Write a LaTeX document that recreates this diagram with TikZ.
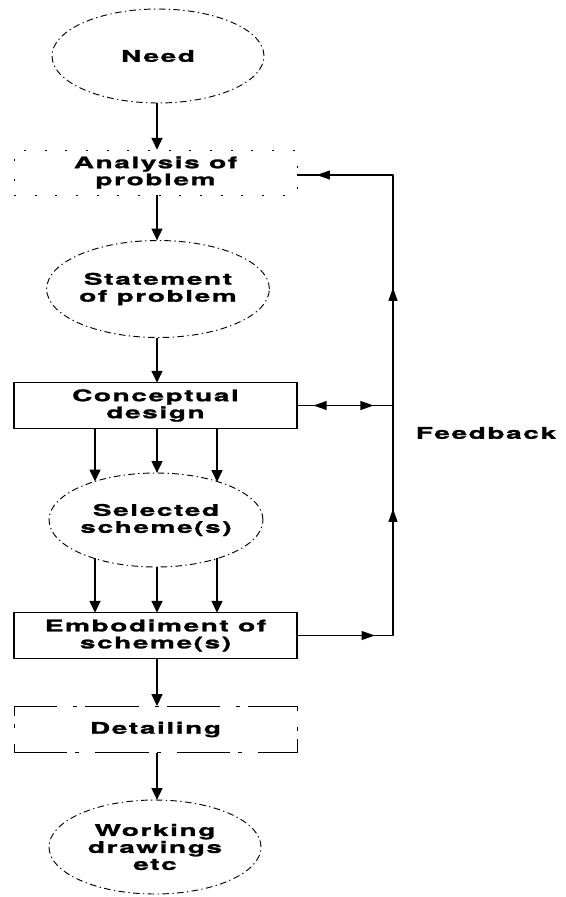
\documentclass[tikz,border=0pt]{standalone}
\usepackage{fontspec}
\newfontfamily\flowfont[FakeStretch=1.75,LetterSpace=10,FakeBold=1.5]{TeX Gyre Heros}
\usetikzlibrary{arrows.meta,decorations.markings,shapes.geometric}

\tikzset{
  flowtip/.tip={Triangle[length=9pt, width=8pt]},
  fbtip/.tip={Triangle[length=10pt, width=6.5pt]},
  flowtext/.style={font=\flowfont\bfseries\fontsize{12}{12.75}\selectfont, align=center, inner sep=0pt, outer sep=0pt},
  oval/.style={flowtext, ellipse, draw, line width=0.7pt,
    dash pattern=on 5pt off 2.5pt on 1pt off 2.5pt,
    minimum width=159pt, minimum height=70.5pt},
  solidbox/.style={flowtext, rectangle, draw, line width=0.9pt,
    minimum width=212.25pt, minimum height=34pt},
  faintbox/.style={flowtext, rectangle, draw, line width=0.5pt,
    dash pattern=on 1.5pt off 14pt, minimum width=212.25pt, minimum height=34pt},
  flow/.style={line width=1.8pt, -flowtip},
  fbline/.style={line width=1.4pt, line join=round}
}

\begin{document}
\begin{tikzpicture}[x=0.75pt, y=-0.75pt]
  \useasboundingbox (0,0) rectangle (566,897);

  % main column
  \node[oval] (need) at (158,56) {Need};
  \node[faintbox] (analysis) at (155.5,172.5) {Analysis of\\problem};
  \node[oval, minimum height=72.75pt] (statement) at (158,289) {Statement\\of problem};
  \node[solidbox] (concept) at (155.5,405.5) {Conceptual\\design};
  \node[oval] (selected) at (156,520) {Selected\\scheme(s)};
  \node[solidbox] (embodiment) at (155.5,635.5) {Embodiment of\\scheme(s)};
  \node[faintbox, minimum height=35pt, line width=0.7pt,
        dash pattern=on 40pt off 6pt on 3pt off 12pt] (detailing) at (155.5,729.5) {Detailing};
  \node[oval] (working) at (155,847) {Working\\drawings\\etc};

  % column positions of the parallel arrows
  \coordinate (colL) at (95,0);
  \coordinate (colM) at (157,0);
  \coordinate (colR) at (217,0);

  % downward flow
  \draw[flow] (need.south -| colM) -- (colM |- analysis.north);
  \draw[flow] (analysis.south -| colM) -- (colM |- statement.north);
  \draw[flow] (statement.south -| colM) -- (colM |- concept.north);
  \draw[flow] (concept.south -| colL) -- (colL |- selected.148.5);
  \draw[flow] (concept.south -| colM) -- (colM |- selected.north);
  \draw[flow] (concept.south -| colR) -- (colR |- selected.31.5);
  \draw[flow] (colL |- selected.-148.5) -- (embodiment.north -| colL);
  \draw[flow] (colM |- selected.south) -- (embodiment.north -| colM);
  \draw[flow] (colR |- selected.-31.5) -- (embodiment.north -| colR);
  \draw[flow] (embodiment.south -| colM) -- (detailing.north -| colM);
  \draw[flow] (detailing.south -| colM) -- (colM |- working.north);

  % feedback loop
  \coordinate (fbtop) at (393,175);
  \coordinate (fbbot) at (fbtop |- embodiment.east);
  \draw[fbline, postaction={decorate}, decoration={markings,
      mark=at position 58.5pt with {\arrow{fbtip}},
      mark=at position 167.25pt with {\arrow{fbtip}},
      mark=at position 333pt with {\arrow{fbtip}},
      mark=at position 474.75pt with {\arrow{fbtip}}}]
    (embodiment.east) -- (fbbot) -- (fbtop) -- (analysis.east |- fbtop);
  \draw[fbline, postaction={decorate}, decoration={markings,
      mark=at position 0.17 with {\arrowreversed{fbtip}},
      mark=at position 0.8 with {\arrow{fbtip}}}]
    (concept.east) -- (fbtop |- concept.east);

  \node[flowtext] (feedback) at (486,433) {Feedback};
\end{tikzpicture}
\end{document}
